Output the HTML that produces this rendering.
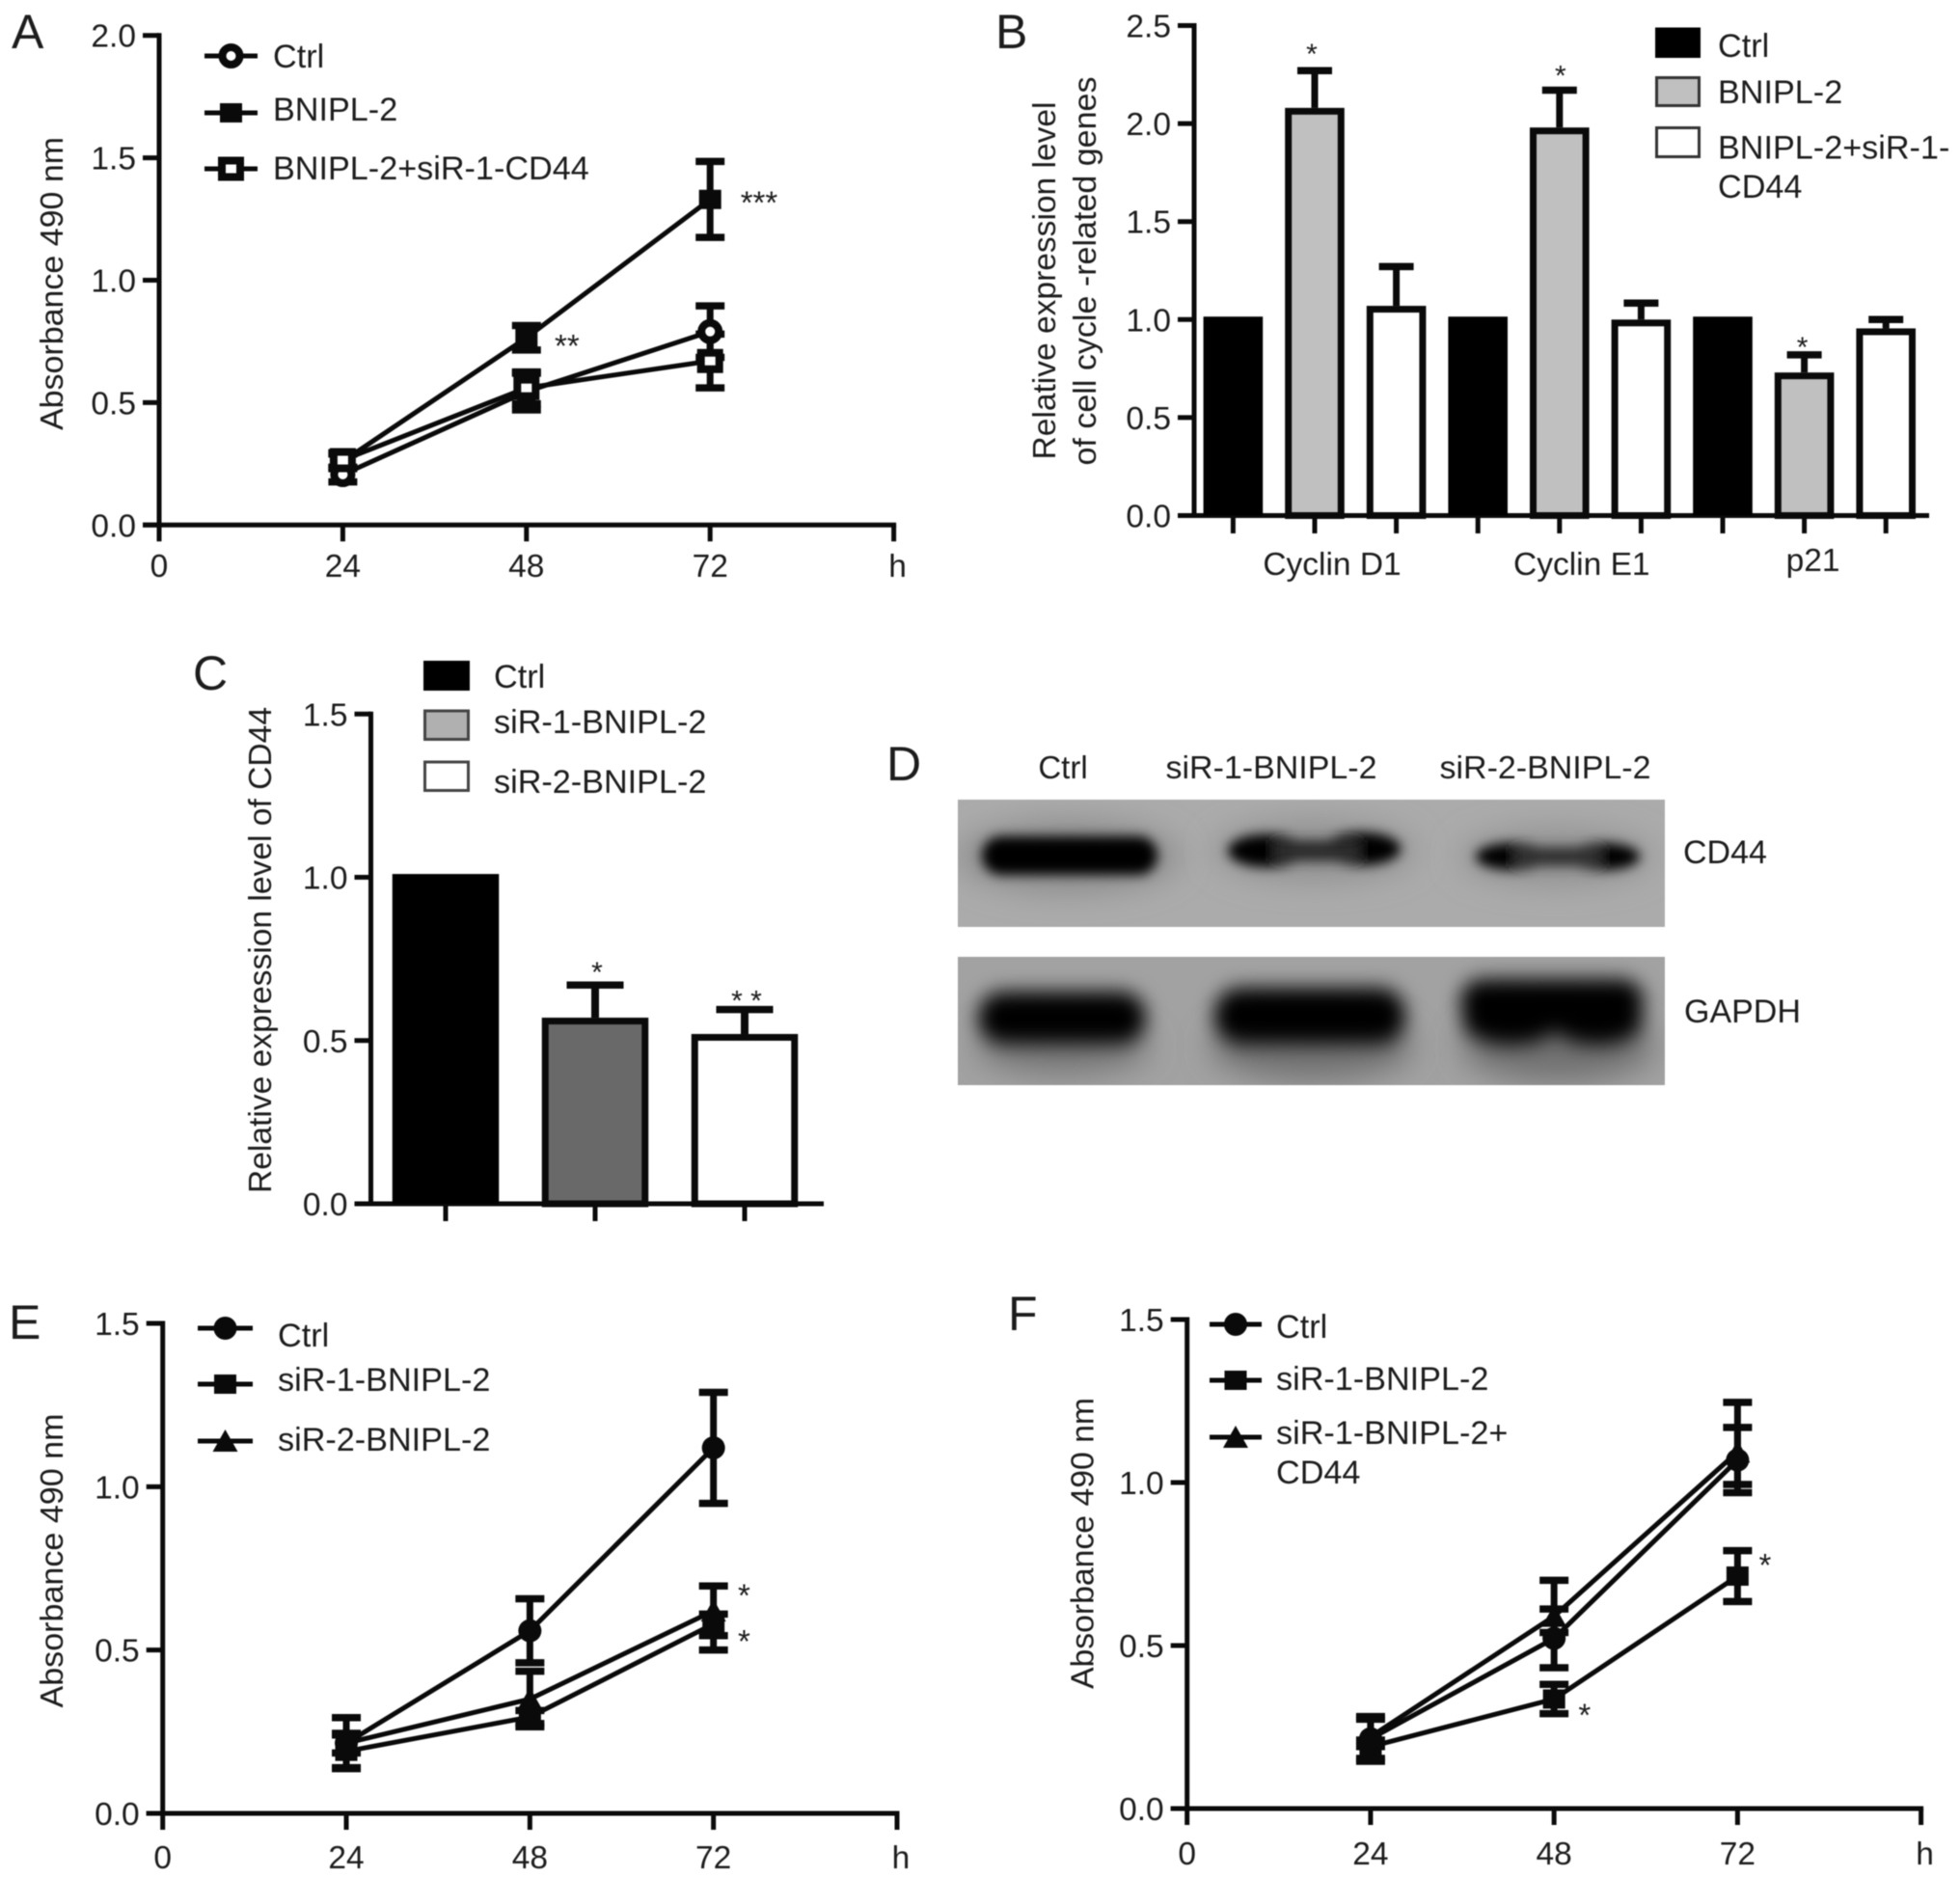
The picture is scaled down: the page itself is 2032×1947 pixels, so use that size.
<!DOCTYPE html>
<html lang="en">
<head>
<meta charset="utf-8">
<title>BNIPL-2 multi-panel figure</title>
<style>
html,body{margin:0;padding:0;background:#fff;width:2032px;height:1947px;overflow:hidden}
svg{display:block;filter:blur(0.6px)}
text{font-family:"Liberation Sans",sans-serif;fill:#1c1c1c}
</style>
</head>
<body>
<svg id="fig" xmlns="http://www.w3.org/2000/svg" width="2032" height="1947" viewBox="0 0 2032 1947">
  <defs>
    <filter id="b3" x="-30%" y="-80%" width="160%" height="260%"><feGaussianBlur stdDeviation="6"/></filter>
    <filter id="b7" x="-30%" y="-60%" width="160%" height="220%"><feGaussianBlur stdDeviation="10"/></filter>
    <filter id="b20" x="-40%" y="-80%" width="180%" height="260%"><feGaussianBlur stdDeviation="16"/></filter>
    <clipPath id="blot-top-clip"><rect x="993" y="829" width="733" height="132"/></clipPath>
    <clipPath id="blot-bottom-clip"><rect x="993" y="992" width="733" height="133"/></clipPath>
  </defs>

  <g clip-path="url(#blot-top-clip)">
    <rect x="993" y="829" width="733" height="132" fill="#ababab"/>
    <ellipse cx="1108" cy="888" rx="115" ry="36" fill="#8a8a8a" filter="url(#b20)"/>
    <ellipse cx="1363" cy="882" rx="105" ry="30" fill="#909090" filter="url(#b20)"/>
    <ellipse cx="1613" cy="888" rx="100" ry="28" fill="#919191" filter="url(#b20)"/>
    <g filter="url(#b3)">
      <rect x="1018" y="867" width="182" height="40" rx="20" fill="#000"/>
    </g>
    <g filter="url(#b3)">
      <ellipse cx="1313" cy="882" rx="40" ry="17" fill="#000"/>
      <ellipse cx="1412" cy="880" rx="40" ry="17" fill="#000"/>
      <rect x="1320" y="871" width="90" height="22" fill="#2a2a2a"/>
    </g>
    <g filter="url(#b3)">
      <ellipse cx="1568" cy="888" rx="38" ry="14" fill="#050505"/>
      <ellipse cx="1662" cy="888" rx="38" ry="14" fill="#050505"/>
      <rect x="1570" y="878" width="90" height="20" fill="#303030"/>
    </g>
  </g>

  <g clip-path="url(#blot-bottom-clip)">
    <rect x="993" y="992" width="733" height="133" fill="#a2a2a2"/>
    <ellipse cx="1102" cy="1085" rx="90" ry="28" fill="#767676" filter="url(#b20)"/>
    <ellipse cx="1360" cy="1085" rx="105" ry="34" fill="#707070" filter="url(#b20)"/>
    <ellipse cx="1615" cy="1085" rx="100" ry="36" fill="#707070" filter="url(#b20)"/>
    <g filter="url(#b7)">
      <rect x="1014" y="1028" width="174" height="54" rx="26" fill="#000"/>
    </g>
    <g filter="url(#b7)">
      <rect x="1259" y="1024" width="198" height="58" rx="27" fill="#000"/>
    </g>
    <g filter="url(#b7)">
      <rect x="1514" y="1015" width="190" height="48" rx="23" fill="#000"/>
      <ellipse cx="1566" cy="1060" rx="50" ry="23" fill="#000"/>
      <ellipse cx="1656" cy="1060" rx="47" ry="23" fill="#000"/>
    </g>
  </g>

  <text x="1102" y="807" font-size="33" text-anchor="middle">Ctrl</text>
  <text x="1318" y="807" font-size="33" text-anchor="middle" textLength="219" lengthAdjust="spacingAndGlyphs">siR-1-BNIPL-2</text>
  <text x="1602" y="807" font-size="33" text-anchor="middle" textLength="219" lengthAdjust="spacingAndGlyphs">siR-2-BNIPL-2</text>
  <text x="1745" y="895" font-size="34">CD44</text>
  <text x="1746" y="1060" font-size="34">GAPDH</text>
</svg>

<script>
// ---------- Shared axis data ----------
var hourTicks = [0, 24, 48, 72, 96];
var hourLabels = ["0", "24", "48", "72", "h"];
var sampleHours = [24, 48, 72];

// ---------- Panel A ----------
var aYTicks = [0, 0.5, 1, 1.5, 2];
var aYLabels = ["0.0", "0.5", "1.0", "1.5", "2.0"];
var aCtrl = [0.206, 0.545, 0.79];
var aCtrlErr = [0.03, 0.075, 0.105];
var aBnipl = [0.26, 0.765, 1.33];
var aBniplErr = [0.03, 0.05, 0.155];
var aKnock = [0.265, 0.56, 0.67];
var aKnockErr = [0.03, 0.065, 0.11];
var aStarHours = [78.4, 53.3];
var aStarValues = [1.335, 0.75];
var aStarLabels = ["***", "**"];

// ---------- Panel B ----------
var bYTicks = [0, 0.5, 1, 1.5, 2, 2.5];
var bYLabels = ["0.0", "0.5", "1.0", "1.5", "2.0", "2.5"];
var bGenes = ["Cyclin D1", "Cyclin E1", "p21"];
var bCtrl = [1.015, 1.015, 1.015];
var bBnipl = [2.08, 1.98, 0.73];
var bBniplErr = [0.19, 0.19, 0.09];
var bKnock = [1.07, 1.0, 0.955];
var bKnockErr = [0.2, 0.084, 0.045];
var bStars = ["*", "*", "*"];

// ---------- Panel C ----------
var cYTicks = [0, 0.5, 1, 1.5];
var cYLabels = ["0.0", "0.5", "1.0", "1.5"];
var cValues = [1.01, 0.57, 0.52];
var cErrors = [0, 0.1, 0.075];
var cStars = ["", "*", "* *"];

// ---------- Panel E ----------
var eYTicks = [0, 0.5, 1, 1.5];
var eYLabels = ["0.0", "0.5", "1.0", "1.5"];
var eCtrl = [0.215, 0.559, 1.119];
var eCtrlErr = [0.078, 0.098, 0.17];
var eSir1 = [0.19, 0.295, 0.58];
var eSir1ErrLow = [0.05, 0.02, 0.08];
var eSir1ErrHigh = [0.05, 0.02, 0.03];
var eSir2 = [0.215, 0.35, 0.62];
var eSir2Err = [0.03, 0.085, 0.076];
var eStarHours = [76, 76];
var eStarValues = [0.68, 0.54];
var eStarLabels = ["*", "*"];

// ---------- Panel F ----------
var fYTicks = [0, 0.5, 1, 1.5];
var fYLabels = ["0.0", "0.5", "1.0", "1.5"];
var fCtrl = [0.214, 0.522, 1.069];
var fCtrlErr = [0.06, 0.09, 0.1];
var fSir1 = [0.19, 0.336, 0.713];
var fSir1ErrLow = [0.045, 0.045, 0.078];
var fSir1ErrHigh = [0.02, 0.045, 0.078];
var fCombo = [0.22, 0.59, 1.094];
var fComboErrLow = [0.03, 0.05, 0.1];
var fComboErrHigh = [0.062, 0.11, 0.152];
var fStarHours = [75.6, 52];
var fStarValues = [0.76, 0.3];
var fStarLabels = ["*", "*"];

var NS = "http://www.w3.org/2000/svg";
var svg = document.getElementById("fig");
var INK = "#0a0a0a";
var LEGEND_SIZE = 34.2;

function make(tag, parent, name, attrs) {
  var el = document.createElementNS(NS, tag);
  
  
  for (var k in attrs) el.setAttribute(k, attrs[k]);
  parent.appendChild(el);
  return el;
}
function line(parent, name, x1, y1, x2, y2, w) {
  return make("line", parent, name, {x1:x1, y1:y1, x2:x2, y2:y2, stroke:INK, "stroke-width":w});
}
function label(parent, name, x, y, txt, anchor, size, len) {
  var attrs = {x:x, y:y, "font-size":size, "text-anchor":anchor};
  if (len) { attrs.textLength = len; attrs.lengthAdjust = "spacingAndGlyphs"; }
  var t = make("text", parent, name, attrs);
  t.textContent = txt;
  return t;
}
function rotated(parent, name, x, yMid, txt, len) {
  var t = make("text", parent, name, {
    x:x, y:yMid, "font-size":33, "text-anchor":"middle",
    transform:"rotate(-90 " + x + " " + yMid + ")",
    textLength:len, lengthAdjust:"spacingAndGlyphs"
  });
  t.textContent = txt;
  return t;
}
function marker(parent, name, kind, cx, cy) {
  if (kind === "open-circle") {
    return make("ellipse", parent, name, {cx:cx, cy:cy, rx:9, ry:9, fill:"#fff", stroke:INK, "stroke-width":8});
  }
  if (kind === "circle") {
    return make("ellipse", parent, name, {cx:cx, cy:cy, rx:12, ry:12, fill:INK});
  }
  if (kind === "square") {
    return make("rect", parent, name, {x:cx-11.5, y:cy-10, width:23, height:20, fill:INK});
  }
  if (kind === "open-square") {
    return make("rect", parent, name, {x:cx-9.5, y:cy-8.5, width:19, height:17, fill:"#fff", stroke:INK, "stroke-width":8});
  }
  return make("polygon", parent, name, {points:(cx-13)+","+(cy+11)+" "+(cx+13)+","+(cy+11)+" "+cx+","+(cy-12), fill:INK});
}
function yAxis(g, p, ticks, labels) {
  line(g, "y-axis-line", p.axisX, p.sy(ticks[ticks.length-1]) - 2.5, p.axisX, p.sy(0) + 2.5, 5);
  ticks.forEach(function (v, i) {
    line(g, "y-axis-tick", p.axisX - 17, p.sy(v), p.axisX, p.sy(v), 5);
    label(g, "y-tick-label", p.axisX - 24, p.sy(v) + 12, labels[i], "end", 33.5);
  });
}

function linePanel(p) {
  var g = make("g", svg, p.name, {});
  p.sx = function (h) { return p.axisX + h * (p.axisEnd - p.axisX) / 96; };
  p.sy = function (v) { return p.axisY - v * (p.axisY - p.topY) / p.maxV; };
  yAxis(g, p, p.yTicks, p.yLabels);
  line(g, "x-axis-line", p.axisX - 17, p.axisY, p.axisEnd + 2.5, p.axisY, 5);
  hourTicks.forEach(function (h, i) {
    line(g, "x-axis-tick", p.sx(h), p.axisY, p.sx(h), p.axisY + 17, 5);
    label(g, "x-tick-label", p.sx(h) + (hourLabels[i] === "h" ? 4 : 0), p.labelY, hourLabels[i], "middle", 33.5);
  });
  rotated(g, "y-axis-title", p.titleX, p.titleMid, "Absorbance 490 nm", p.titleLen);
  p.series.forEach(function (s) {
    var sg = make("g", g, "series-" + s.slug, {});
    var pts = sampleHours.map(function (h, i) { return p.sx(h) + "," + p.sy(s.values[i]); }).join(" ");
    make("polyline", sg, "series-line-" + s.slug, {points:pts, fill:"none", stroke:INK, "stroke-width":5});
    sampleHours.forEach(function (h, i) {
      var x = p.sx(h);
      var hi = p.sy(s.values[i] + s.errHigh[i]);
      var lo = p.sy(s.values[i] - s.errLow[i]);
      line(sg, "error-stem-" + s.slug, x, hi, x, lo, 7);
      line(sg, "error-cap-" + s.slug, x - 15, hi, x + 15, hi, 7.5);
      line(sg, "error-cap-" + s.slug, x - 15, lo, x + 15, lo, 7.5);
    });
  });
  p.series.forEach(function (s) {
    sampleHours.forEach(function (h, i) {
      marker(g, "point-" + s.slug + "-" + h + "h", s.kind, p.sx(h), p.sy(s.values[i]));
    });
  });
  p.starHours.forEach(function (h, i) {
    label(g, "significance-stars", p.sx(h), p.sy(p.starValues[i]) + 16, p.starLabels[i], "middle", 33);
  });
  var leg = make("g", g, "legend", {});
  p.legend.forEach(function (e, i) {
    line(leg, "legend-line-" + p.series[i].slug, p.legX1, e.y, p.legX2, e.y, 5);
    marker(leg, "legend-marker-" + p.series[i].slug, p.series[i].kind, (p.legX1 + p.legX2) / 2, e.y);
    e.lines.forEach(function (txt, j) {
      label(leg, "legend-entry", p.legTextX, e.base[j], txt, "start", LEGEND_SIZE);
    });
  });
}

function barFrame(g, name, cx, w, top, base, fill, stroke) {
  if (stroke) {
    return make("rect", g, name, {x:cx - w/2 + 3.5, y:top + 3.5, width:w - 7, height:base - top - 3.5, fill:fill, stroke:INK, "stroke-width":7});
  }
  return make("rect", g, name, {x:cx - w/2, y:top, width:w, height:base - top, fill:fill});
}
function errorUp(g, name, cx, from, to, capW, sw) {
  line(g, "error-stem-" + name, cx, from, cx, to, sw);
  line(g, "error-cap-" + name, cx - capW/2, to, cx + capW/2, to, 7.5);
}

// ---------- Panel letters ----------
[["A", 12, 50], ["B", 1032, 50], ["C", 200, 715], ["D", 919, 809], ["E", 9, 1388], ["F", 1045, 1379]].forEach(function (l) {
  label(svg, "panel-letter-" + l[0].toLowerCase(), l[1], l[2], l[0], "start", 50);
});

// ---------- A ----------
linePanel({
  name:"panel-a-line-chart", axisX:165, axisEnd:926.6, axisY:544.3, topY:36.7, maxV:2,
  yTicks:aYTicks, yLabels:aYLabels, labelY:598, titleX:65, titleMid:294, titleLen:304,
  starHours:aStarHours, starValues:aStarValues, starLabels:aStarLabels,
  series:[
    {slug:"ctrl", kind:"open-circle", values:aCtrl, errLow:aCtrlErr, errHigh:aCtrlErr},
    {slug:"bnipl-2", kind:"square", values:aBnipl, errLow:aBniplErr, errHigh:aBniplErr},
    {slug:"bnipl-2-sir-1-cd44", kind:"open-square", values:aKnock, errLow:aKnockErr, errHigh:aKnockErr}
  ],
  legX1:212, legX2:267, legTextX:283,
  legend:[
    {y:58, lines:["Ctrl"], base:[70]},
    {y:117, lines:["BNIPL-2"], base:[125]},
    {y:175, lines:["BNIPL-2+siR-1-CD44"], base:[186]}
  ]
});

// ---------- B ----------
(function () {
  var g = make("g", svg, "panel-b-bar-chart", {});
  var p = {axisX:1238, sy:function (v) { return 534.5 - v * 203.2; }};
  var sx = function (gene, member) { return 1278.4 + 84.6 * (gene * 3 + member); };
  yAxis(g, p, bYTicks, bYLabels);
  line(g, "x-axis-line", 1221, 534.5, 2000, 534.5, 5);
  bGenes.forEach(function (gene, i) {
    [0, 1, 2].forEach(function (m) { line(g, "x-axis-tick", sx(i, m), 534.5, sx(i, m), 553, 5); });
    barFrame(g, "bar-ctrl-" + i, sx(i, 0), 61.6, p.sy(bCtrl[i]), 534.5, "#000", false);
    errorUp(g, "bnipl-2-" + i, sx(i, 1), p.sy(bBnipl[i]), p.sy(bBnipl[i] + bBniplErr[i]), 36, 7);
    barFrame(g, "bar-bnipl-2-" + i, sx(i, 1), 61.6, p.sy(bBnipl[i]), 534.5, "#c0c0c0", true);
    errorUp(g, "knockdown-" + i, sx(i, 2), p.sy(bKnock[i]), p.sy(bKnock[i] + bKnockErr[i]), 36, 7);
    barFrame(g, "bar-knockdown-" + i, sx(i, 2), 61.6, p.sy(bKnock[i]), 534.5, "#fff", true);
    label(g, "significance-star", sx(i, 1) + [-3, 1, -2][i], p.sy(bBnipl[i] + bBniplErr[i]) + [-7, -5, 2][i], bStars[i], "middle", 30);
    label(g, "x-category-label", sx(i, 1) + [18, 23, 9][i], i === 2 ? 592 : 596, gene, "middle", 33.5);
  });
  rotated(g, "y-axis-title-line-1", 1094, 291, "Relative expression level", 371);
  rotated(g, "y-axis-title-line-2", 1136, 281, "of cell cycle -related genes", 403);
  var leg = make("g", g, "legend", {});
  make("rect", leg, "legend-swatch-ctrl", {x:1716, y:28.5, width:47, height:31.5, fill:"#000"});
  make("rect", leg, "legend-swatch-bnipl-2", {x:1717.5, y:80.5, width:44, height:29, fill:"#c0c0c0", stroke:"#333", "stroke-width":3});
  make("rect", leg, "legend-swatch-knockdown", {x:1717.5, y:132.5, width:44, height:30, fill:"#fff", stroke:"#333", "stroke-width":3});
  label(leg, "legend-entry", 1781, 59, "Ctrl", "start", LEGEND_SIZE);
  label(leg, "legend-entry", 1781, 107, "BNIPL-2", "start", LEGEND_SIZE);
  label(leg, "legend-entry", 1781, 164.5, "BNIPL-2+siR-1-", "start", LEGEND_SIZE);
  label(leg, "legend-entry", 1781, 205, "CD44", "start", LEGEND_SIZE);
})();

// ---------- C ----------
(function () {
  var g = make("g", svg, "panel-c-bar-chart", {});
  var p = {axisX:384.5, sy:function (v) { return 1248 - v * 338.5; }};
  var sx = function (i) { return 462 + 155 * i; };
  var fills = ["#000", "#696969", "#fff"];
  yAxis(g, p, cYTicks, cYLabels);
  line(g, "x-axis-line", 374, 1248, 854, 1248, 5);
  cValues.forEach(function (v, i) {
    line(g, "x-axis-tick", sx(i), 1248, sx(i), 1266, 5);
    if (cErrors[i] > 0) errorUp(g, "bar-" + i, sx(i), p.sy(v), p.sy(v + cErrors[i]), 59, 8);
    barFrame(g, "bar-" + i, sx(i), 110.5, p.sy(v), 1248, fills[i], i > 0);
    if (cStars[i]) label(g, "significance-star", sx(i) + 2, p.sy(v + cErrors[i]) + (i === 1 ? -3 : 1), cStars[i], "middle", 30);
  });
  rotated(g, "y-axis-title", 281, 985, "Relative expression level of CD44", 504);
  var leg = make("g", g, "legend", {});
  make("rect", leg, "legend-swatch-ctrl", {x:439, y:685, width:48, height:31, fill:"#000"});
  make("rect", leg, "legend-swatch-sir-1", {x:440.5, y:737, width:45, height:29.5, fill:"#b0b0b0", stroke:"#444", "stroke-width":3});
  make("rect", leg, "legend-swatch-sir-2", {x:440.5, y:790, width:45, height:29.5, fill:"#fff", stroke:"#444", "stroke-width":3});
  label(leg, "legend-entry", 512, 713, "Ctrl", "start", LEGEND_SIZE);
  label(leg, "legend-entry", 512, 760, "siR-1-BNIPL-2", "start", LEGEND_SIZE);
  label(leg, "legend-entry", 512, 822, "siR-2-BNIPL-2", "start", LEGEND_SIZE);
})();

// ---------- E ----------
linePanel({
  name:"panel-e-line-chart", axisX:168.7, axisEnd:930, axisY:1880, topY:1372, maxV:1.5,
  yTicks:eYTicks, yLabels:eYLabels, labelY:1937, titleX:65, titleMid:1618, titleLen:305,
  starHours:eStarHours, starValues:eStarValues, starLabels:eStarLabels,
  series:[
    {slug:"ctrl", kind:"circle", values:eCtrl, errLow:eCtrlErr, errHigh:eCtrlErr},
    {slug:"sir-1-bnipl-2", kind:"square", values:eSir1, errLow:eSir1ErrLow, errHigh:eSir1ErrHigh},
    {slug:"sir-2-bnipl-2", kind:"triangle", values:eSir2, errLow:eSir2Err, errHigh:eSir2Err}
  ],
  legX1:205, legX2:262, legTextX:288,
  legend:[
    {y:1377, lines:["Ctrl"], base:[1396]},
    {y:1435, lines:["siR-1-BNIPL-2"], base:[1442]},
    {y:1494, lines:["siR-2-BNIPL-2"], base:[1504]}
  ]
});

// ---------- F ----------
linePanel({
  name:"panel-f-line-chart", axisX:1230.7, axisEnd:1991.6, axisY:1875, topY:1368, maxV:1.5,
  yTicks:fYTicks, yLabels:fYLabels, labelY:1933, titleX:1133.5, titleMid:1600, titleLen:302,
  starHours:fStarHours, starValues:fStarValues, starLabels:fStarLabels,
  series:[
    {slug:"ctrl", kind:"circle", values:fCtrl, errLow:fCtrlErr, errHigh:fCtrlErr},
    {slug:"sir-1-bnipl-2", kind:"square", values:fSir1, errLow:fSir1ErrLow, errHigh:fSir1ErrHigh},
    {slug:"sir-1-bnipl-2-cd44", kind:"triangle", values:fCombo, errLow:fComboErrLow, errHigh:fComboErrHigh}
  ],
  legX1:1254, legX2:1308, legTextX:1323,
  legend:[
    {y:1373, lines:["Ctrl"], base:[1387]},
    {y:1431, lines:["siR-1-BNIPL-2"], base:[1441]},
    {y:1490, lines:["siR-1-BNIPL-2+", "CD44"], base:[1497, 1538]}
  ]
});
</script>
</body>
</html>
